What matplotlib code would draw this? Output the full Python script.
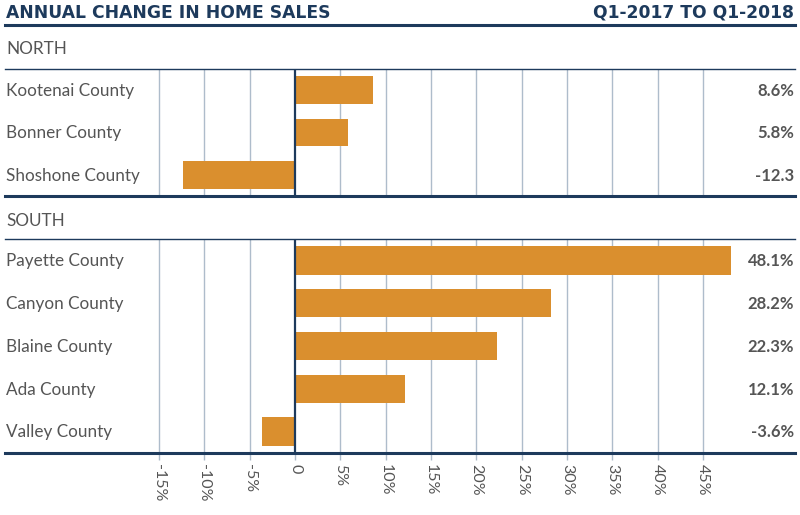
import matplotlib
matplotlib.use("Agg")
import matplotlib.pyplot as plt
from matplotlib.lines import Line2D
from matplotlib import transforms

# ---- data ----
north_counties = ["Kootenai County", "Bonner County", "Shoshone County"]
north_values = [8.6, 5.8, -12.3]
north_labels = ["8.6%", "5.8%", "-12.3"]

south_counties = ["Payette County", "Canyon County", "Blaine County", "Ada County", "Valley County"]
south_values = [48.1, 28.2, 22.3, 12.1, -3.6]
south_labels = ["48.1%", "28.2%", "22.3%", "12.1%", "-3.6%"]

tick_values = [-15, -10, -5, 0, 5, 10, 15, 20, 25, 30, 35, 40, 45]
tick_labels = ["-15%", "-10%", "-5%", "0", "5%", "10%", "15%", "20%", "25%", "30%", "35%", "40%", "45%"]

title = "ANNUAL CHANGE IN HOME SALES"
subtitle = "Q1-2017 TO Q1-2018"

# ---- style ----
FONT = "Lato"
TITLE_FONT = "DejaVu Sans"
NAVY = "#1d3a5c"
ORANGE = "#da8f2e"
GRID = "#aebccb"
TEXT = "#555555"

W, H = 800, 515
fig = plt.figure(figsize=(W / 100, H / 100), dpi=100)

def fx(px):
    return px / W

def fy(py):
    return 1 - py / H

X_LEFT, X_RIGHT = 5, 795
ZERO_PX, PX_PER_PCT = 295, 9.07
xmin = (X_LEFT - ZERO_PX) / PX_PER_PCT
xmax = (X_RIGHT - ZERO_PX) / PX_PER_PCT

def make_axes(top_px, bottom_px, names, values, labels, show_ticks):
    ax = fig.add_axes([fx(X_LEFT), fy(bottom_px), fx(X_RIGHT - X_LEFT), (bottom_px - top_px) / H])
    n = len(names)
    y = list(range(n))
    ax.set_xlim(xmin, xmax)
    ax.set_ylim(n - 0.5, -0.5)
    for t in tick_values:
        if t == 0:
            ax.axvline(t, color=NAVY, lw=1.6, zorder=4)
        else:
            ax.axvline(t, color=GRID, lw=1.0, zorder=1)
    ax.barh(y, values, height=0.66, color=ORANGE, zorder=3)
    base = transforms.offset_copy(ax.get_yaxis_transform(), fig=fig, x=0, y=-4.2, units="points")
    for yi, name, lab in zip(y, names, labels):
        ax.text(0.0015, yi, name, transform=base, ha="left", va="baseline",
                fontsize=12.3, color=TEXT, family=FONT)
        ax.text(0.999, yi, lab, transform=base, ha="right", va="baseline",
                fontsize=12, color=TEXT, family=FONT, fontweight="bold")
    for s in ["left", "right"]:
        ax.spines[s].set_visible(False)
    ax.spines["top"].set_color(NAVY)
    ax.spines["top"].set_linewidth(1.0)
    ax.spines["bottom"].set_color(NAVY)
    ax.spines["bottom"].set_linewidth(2.2)
    ax.set_yticks([])
    ax.set_xticks(tick_values)
    if show_ticks:
        ax.set_xticklabels(tick_labels, rotation=270, fontsize=11.5, color=TEXT, family=FONT)
        ax.tick_params(axis="x", length=5, width=1, color=GRID, pad=3)
    else:
        ax.set_xticklabels([])
        ax.tick_params(axis="x", length=0)
    return ax

make_axes(69, 196, north_counties, north_values, north_labels, False)
make_axes(239, 453, south_counties, south_values, south_labels, True)

# header
fig.text(fx(6), fy(18), title, ha="left", va="baseline", fontsize=12.3, fontweight="bold",
         color=NAVY, family=TITLE_FONT)
fig.text(fx(794), fy(18), subtitle, ha="right", va="baseline", fontsize=12.3, fontweight="bold",
         color=NAVY, family=TITLE_FONT)
fig.add_artist(Line2D([fx(X_LEFT), fx(X_RIGHT)], [fy(25), fy(25)], color=NAVY, lw=2.2,
                      transform=fig.transFigure))

fig.text(fx(6), fy(54), "NORTH", ha="left", va="baseline", fontsize=12.3, color=TEXT, family=FONT)
fig.text(fx(6), fy(226), "SOUTH", ha="left", va="baseline", fontsize=12.3, color=TEXT, family=FONT)

fig.savefig("out.png", dpi=100, facecolor="white")
